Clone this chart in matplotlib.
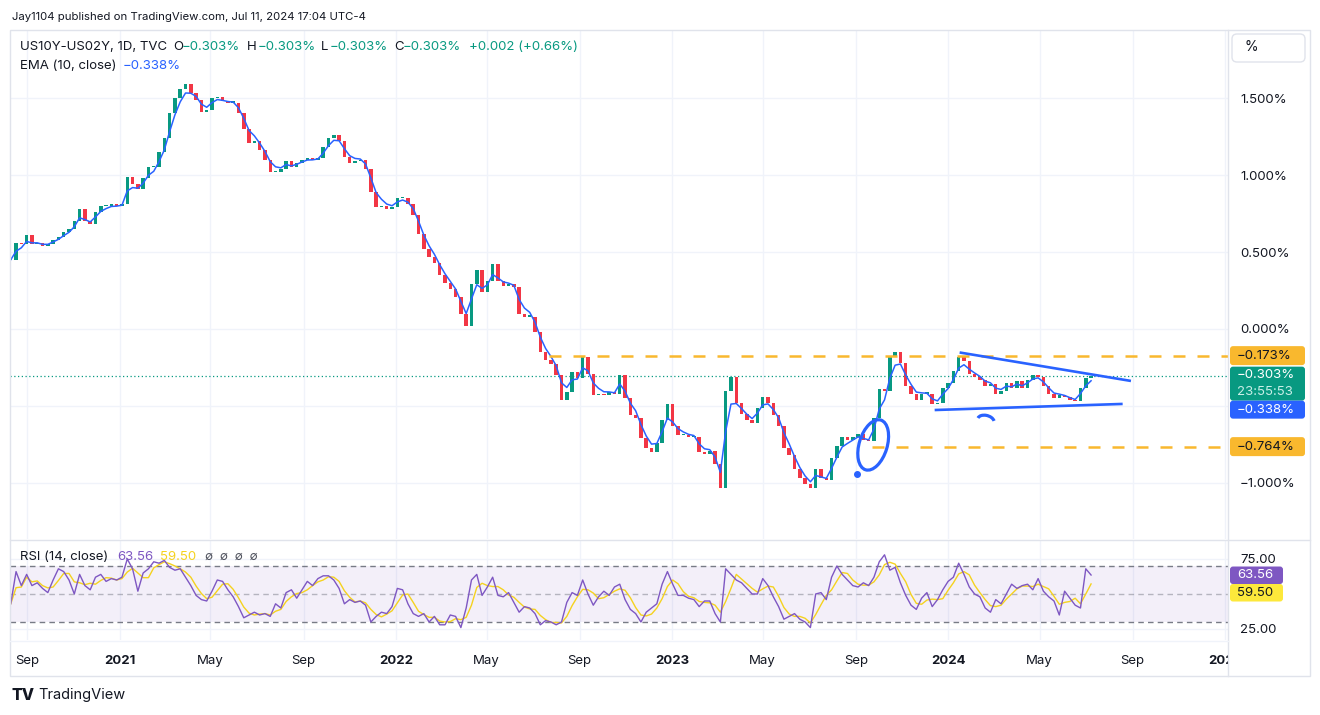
import numpy as np
import pandas as pd
import matplotlib
matplotlib.use("Agg")
import matplotlib.pyplot as plt
import matplotlib.dates as mdates
import matplotlib.transforms as mtrans
from matplotlib.patches import FancyBboxPatch, Ellipse, Arc, Rectangle
from matplotlib.lines import Line2D

plt.rcParams["font.family"] = ["Inter", "DejaVu Sans"]

W, H = 1320, 715

# weekly closes (%), first week 2020-08-10
closes = [
    0.45, 0.56, 0.55, 0.61, 0.55, 0.56, 0.54, 0.55, 0.58, 0.60,
    0.63, 0.65, 0.70, 0.78, 0.70, 0.68, 0.76, 0.80, 0.80, 0.81,
    0.80, 0.81, 0.99, 0.94, 0.91, 0.98, 1.05, 1.05, 1.15, 1.24,
    1.40, 1.50, 1.56, 1.59, 1.53, 1.49, 1.41, 1.42, 1.50, 1.51,
    1.48, 1.47, 1.47, 1.40, 1.30, 1.21, 1.22, 1.16, 1.10, 1.02,
    1.02, 1.04, 1.09, 1.05, 1.08, 1.10, 1.11, 1.10, 1.11, 1.18,
    1.24, 1.26, 1.22, 1.12, 1.08, 1.09, 1.10, 1.04, 0.89, 0.79,
    0.80, 0.78, 0.79, 0.85, 0.85, 0.81, 0.74, 0.62, 0.52, 0.47,
    0.43, 0.35, 0.30, 0.26, 0.21, 0.10, 0.02, 0.29, 0.38, 0.24,
    0.31, 0.42, 0.31, 0.28, 0.29, 0.27, 0.10, 0.08, 0.08, -0.02,
    -0.15, -0.20, -0.23, -0.30, -0.46, -0.41, -0.28, -0.32, -0.18, -0.29,
    -0.43, -0.42, -0.43, -0.41, -0.42, -0.30, -0.45, -0.56, -0.58, -0.71,
    -0.77, -0.80, -0.74, -0.59, -0.49, -0.63, -0.69, -0.69, -0.70, -0.70,
    -0.80, -0.81, -0.79, -0.88, -1.03, -0.40, -0.31, -0.48, -0.55, -0.59,
    -0.61, -0.51, -0.44, -0.48, -0.56, -0.63, -0.77, -0.82, -0.91, -0.97,
    -1.01, -1.03, -0.91, -0.97, -0.98, -0.84, -0.76, -0.70, -0.72, -0.70,
    -0.68, -0.72, -0.73, -0.58, -0.39, -0.40, -0.18, -0.15, -0.22, -0.37,
    -0.42, -0.46, -0.42, -0.42, -0.49, -0.48, -0.38, -0.35, -0.27, -0.18,
    -0.21, -0.29, -0.31, -0.33, -0.37, -0.36, -0.42, -0.40, -0.35, -0.38,
    -0.34, -0.38, -0.33, -0.30, -0.31, -0.37, -0.42, -0.45, -0.43, -0.44,
    -0.46, -0.47, -0.38, -0.32, -0.303,
]

# weekly RSI(14) readings
rsi_vals = [
    43, 66, 56, 64, 56, 58, 54, 51, 60, 68,
    66, 60, 50, 64, 56, 53, 62, 64, 59, 61,
    60, 62, 75, 68, 52, 65, 68, 73, 72, 74,
    69, 67, 68, 62, 56, 49, 46, 45, 52, 60,
    59, 53, 48, 41, 33, 35, 37, 35, 36, 34,
    43, 40, 51, 53, 47, 53, 59, 56, 61, 63,
    63, 60, 54, 43, 46, 44, 45, 42, 30, 34,
    37, 36, 41, 54, 53, 43, 36, 34, 36, 30,
    34, 28, 28, 35, 34, 26, 40, 60, 64, 49,
    55, 62, 49, 48, 51, 44, 37, 41, 40, 36,
    28, 31, 30, 28, 30, 44, 51, 49, 60, 50,
    42, 48, 52, 49, 55, 57, 46, 39, 36, 30,
    37, 40, 43, 57, 66, 57, 49, 49, 47, 46,
    41, 45, 45, 36, 30, 68, 64, 60, 58, 54,
    50, 50, 61, 56, 48, 41, 32, 34, 36, 32,
    30, 26, 50, 51, 46, 62, 70, 64, 60, 56,
    55, 58, 56, 62, 73, 78, 67, 69, 58, 49,
    42, 39, 47, 51, 41, 46, 53, 59, 62, 72,
    64, 55, 50, 48, 40, 37, 46, 43, 50, 57,
    54, 56, 57, 53, 61, 52, 48, 45, 35, 52,
    47, 42, 40, 68, 63.56,
]

weeks = pd.date_range("2020-08-10", periods=len(closes), freq="7D")

last_close = -0.303
ema_last = -0.338
rsi_last = 63.56
rsi_ma_last = 59.50
resist_level = -0.173
support_level = -0.764
resist_start = "2022-07-23"
support_start = "2023-09-23"
upper_line_dates = ["2024-01-18", "2024-08-28"]
upper_line_vals = [-0.154, -0.336]
lower_line_dates = ["2023-12-16", "2024-08-17"]
lower_line_vals = [-0.526, -0.487]
circle_at = ("2023-09-24", -0.753)
dot_at = ("2023-09-03", -0.94)
arc_at = ("2024-02-20", -0.597)

month_ticks = ["2020-09-01", "2021-01-01", "2021-05-01", "2021-09-01", "2022-01-01",
               "2022-05-01", "2022-09-01", "2023-01-01", "2023-05-01", "2023-09-01",
               "2024-01-01", "2024-05-01", "2024-09-01", "2025-01-01"]
month_labels = ["Sep", "2021", "May", "Sep", "2022", "May", "Sep", "2023", "May",
                "Sep", "2024", "May", "Sep", "2025"]
price_ticks = [1.5, 1.0, 0.5, 0.0, -0.5, -1.0]
price_labels = ["1.500%", "1.000%", "0.500%", "0.000%", "", "\u22121.000%"]

GREEN = "#089981"
RED = "#f23645"
BLUE = "#2962ff"
ORANGE = "#f9b82e"
PURPLE = "#7e57c2"
YELLOW = "#fde83b"
TXT = "#131722"
GRID = "#f0f3fa"
BORDER = "#e0e3eb"

fig = plt.figure(figsize=(W / 100, H / 100), dpi=100)
ident = mtrans.IdentityTransform()


def fx(px):
    return px / W


def fy(py):
    return 1 - py / H


def ptext(x, y, s, **kw):
    kw.setdefault("va", "center")
    kw.setdefault("color", TXT)
    kw.setdefault("fontsize", 9.5)
    fig.text(x, H - y, s, transform=ident, **kw)


ax = fig.add_axes([fx(10), fy(539), fx(1228) - fx(10), fy(30) - fy(539)])
ax_rsi = fig.add_axes([fx(10), fy(640), fx(1228) - fx(10), fy(540) - fy(640)])
ax_time = fig.add_axes([fx(10), fy(676), fx(1228) - fx(10), fy(641) - fy(676)])

xlim = (mdates.date2num(pd.Timestamp("2020-08-09")), mdates.date2num(pd.Timestamp("2025-01-05")))
for a in (ax, ax_rsi, ax_time):
    a.set_xlim(*xlim)
    for sp in a.spines.values():
        sp.set_visible(False)
    a.set_facecolor("white")
ax.set_ylim(-1.364, 1.942)
ax_rsi.set_ylim(17.14, 88.57)
ax_time.set_ylim(0, 1)

tick_x = mdates.date2num(pd.to_datetime(month_ticks))
for a in (ax, ax_rsi):
    for t in tick_x:
        a.axvline(t, color=GRID, lw=1, zorder=0)
    a.set_xticks([])
for v in price_ticks:
    ax.axhline(v, color=GRID, lw=1, zorder=0)

# price axis
ax.yaxis.tick_right()
ax.set_yticks(price_ticks)
ax.set_yticklabels(price_labels)
ax.tick_params(axis="y", length=0, pad=8.6, labelsize=9.5, labelcolor=TXT)

# candles
x = mdates.date2num(weeks)
opens = [closes[0]] + closes[:-1]
body_lo = np.minimum(opens, closes)
body_h = np.maximum(np.abs(np.subtract(closes, opens)), 0.008)
cols = [GREEN if c >= o else RED for o, c in zip(opens, closes)]
ax.bar(x, body_h, bottom=body_lo, width=4.6, color=cols, linewidth=0, zorder=3)

ema = pd.Series(closes).ewm(span=3, adjust=False).mean()
ax.plot(x, ema, color=BLUE, lw=1.1, zorder=4)

# drawings
ax.axhline(last_close, color=GREEN, lw=0.9, ls=(0, (1, 2)), zorder=2)
d = lambda s: mdates.date2num(pd.Timestamp(s))
ax.plot([d(resist_start), xlim[1]], [resist_level] * 2, color=ORANGE, lw=1.8,
        dashes=(4.8, 4.8), zorder=5)
ax.plot([d(support_start), xlim[1]], [support_level] * 2, color=ORANGE, lw=1.8,
        dashes=(4.8, 4.8), zorder=5)
ax.plot([d(s) for s in upper_line_dates], upper_line_vals, color=BLUE, lw=1.9, zorder=6)
ax.plot([d(s) for s in lower_line_dates], lower_line_vals, color=BLUE, lw=1.9, zorder=6)
tr = fig.dpi_scale_trans + mtrans.ScaledTranslation(d(circle_at[0]), circle_at[1], ax.transData)
ax.add_patch(Ellipse((0, 0), 0.28, 0.52, angle=-17, transform=tr, fill=False,
                     ec=BLUE, lw=2.3, zorder=7))
ax.plot(d(dot_at[0]), dot_at[1], "o", ms=4, color=BLUE, zorder=7)
tr2 = fig.dpi_scale_trans + mtrans.ScaledTranslation(d(arc_at[0]), arc_at[1], ax.transData)
ax.add_patch(Arc((0, 0), 0.17, 0.11, angle=-15, theta1=15, theta2=175, transform=tr2,
                 color=BLUE, lw=2.3, zorder=7))

# RSI pane
ax_rsi.axhspan(30, 70, color=PURPLE, alpha=0.09, lw=0, zorder=0)
for lvl, al in ((70, 1), (50, 0.5), (30, 1)):
    ax_rsi.axhline(lvl, color="#787b86", lw=1, dashes=(4, 3), alpha=al, zorder=1)
for lvl in (75, 25):
    ax_rsi.axhline(lvl, color=GRID, lw=1, zorder=0)
rsi_ma = pd.Series(rsi_vals).rolling(3, min_periods=1).mean()
ax_rsi.plot(x, rsi_ma, color="#f5d21f", lw=1, zorder=3)
ax_rsi.plot(x, rsi_vals, color=PURPLE, lw=1, zorder=4)
ax_rsi.yaxis.tick_right()
ax_rsi.set_yticks([75, 25])
ax_rsi.set_yticklabels(["75.00", "25.00"])
ax_rsi.tick_params(axis="y", length=0, pad=8.6, labelsize=9.5, labelcolor=TXT)

# time axis
ax_time.set_xticks([])
ax_time.set_yticks([])
for t, lab in zip(tick_x, month_labels):
    bold = lab.isdigit()
    ax_time.text(t, 0.43, lab, ha="center", va="center", fontsize=9.5, color=TXT,
                 fontweight="bold" if bold else "normal", clip_on=True)

# frame
fig.add_artist(Rectangle((10, H - 676), 1300, 646, transform=ident, fill=False,
                         ec=BORDER, lw=1))
fig.add_artist(Line2D([1228, 1228], [H - 676, H - 30], transform=ident, color=BORDER, lw=1))
fig.add_artist(Line2D([10, 1310], [H - 539.5, H - 539.5], transform=ident, color=BORDER, lw=1))
fig.add_artist(Line2D([10, 1228], [H - 640.5, H - 640.5], transform=ident, color=GRID, lw=1))


def val_px(a, v):
    return H - a.transData.transform((xlim[0], v))[1]


def tag(y_top, h, text, bg, fg, w=75):
    fig.add_artist(FancyBboxPatch((1230, H - y_top - h), w, h,
                                  boxstyle="round,pad=0,rounding_size=3",
                                  transform=ident, fc=bg, ec="none", zorder=5))
    if isinstance(text, str):
        text = [(text, fg)]
    n = len(text)
    for i, (s, c) in enumerate(text):
        ptext(1237, y_top + h * (i + 0.5) / n, s, color=c, zorder=6)


minus = lambda v, nd: f"{v:.{nd}f}".replace("-", "\u2212")

y = val_px(ax, resist_level)
tag(y - 9.5, 19, minus(resist_level, 3) + "%", ORANGE, TXT)
y = val_px(ax, last_close)
tag(y - 9, 34, [(minus(last_close, 3) + "%", "white"), ("23:55:53", "#c9efe8")], GREEN, "white")
tag(y + 25, 18, minus(ema_last, 3) + "%", BLUE, "white")
y = val_px(ax, support_level)
tag(y - 9.5, 19, minus(support_level, 3) + "%", ORANGE, TXT)
y = val_px(ax_rsi, rsi_last)
tag(y - 8.5, 17.5, f"{rsi_last:.2f}", PURPLE, "white", w=53)
tag(y + 9, 17.5, f"{rsi_ma_last:.2f}", YELLOW, TXT, w=53)

# % button
fig.add_artist(FancyBboxPatch((1232, H - 62), 73, 28, boxstyle="round,pad=0,rounding_size=5",
                              transform=ident, fc="white", ec=BORDER, lw=1))
ptext(1244, 47, "%", fontsize=10)

# headers / legends
ptext(12, 17, "Jay1104 published on TradingView.com, Jul 11, 2024 17:04 UTC-4", fontsize=8.2)
ptext(20, 47, "US10Y-US02Y, 1D, TVC", fontsize=9.5)
for xo, lab, xv in ((173, "O", 182), (247, "H", 258), (321, "L", 330), (394, "C", 403)):
    ptext(xo, 47, lab, fontsize=9.5)
    ptext(xv, 47, minus(last_close, 3) + "%", fontsize=9.5, color=GREEN)
ptext(469, 47, "+0.002 (+0.66%)", fontsize=9.5, color=GREEN)
ptext(20, 66, "EMA (10, close)", fontsize=9.5)
ptext(123, 66, minus(ema_last, 3) + "%", fontsize=9.5, color=BLUE)
ptext(20, 557, "RSI (14, close)", fontsize=9.5)
ptext(117, 557, f"{rsi_last:.2f}", fontsize=9.5, color=PURPLE)
ptext(160, 557, f"{rsi_ma_last:.2f}", fontsize=9.5, color="#f5d21f")
ptext(205, 557, "\u2205  \u2205  \u2205  \u2205", fontsize=8.5, color="#50535e")

# logo
ptext(11, 695, "TV", fontsize=11.5, fontweight="heavy")
ptext(38, 695, "TradingView", fontsize=10.5)

fig.savefig("out.png", dpi=100, facecolor="white")
